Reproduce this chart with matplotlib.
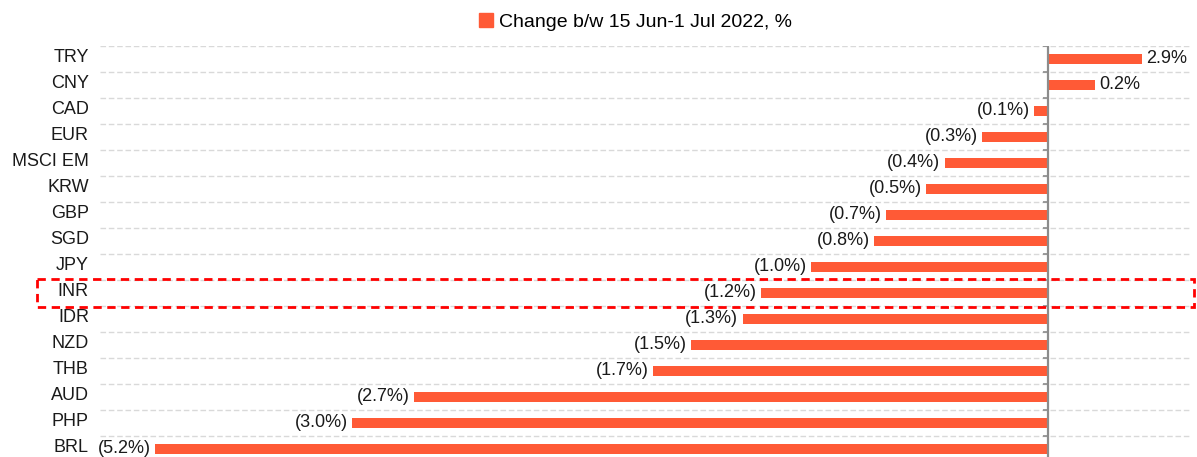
import matplotlib
matplotlib.use("Agg")
import matplotlib.pyplot as plt
from matplotlib.patches import Patch, Rectangle
from matplotlib.transforms import blended_transform_factory, ScaledTranslation
from matplotlib import font_manager

# categories top to bottom
currencies = ["TRY", "CNY", "CAD", "EUR", "MSCI EM", "KRW", "GBP", "SGD",
              "JPY", "INR", "IDR", "NZD", "THB", "AUD", "PHP", "BRL"]
# bar lengths as drawn in the source chart (%)
bar_values = [0.40, 0.20, -0.06, -0.28, -0.44, -0.52, -0.69, -0.74,
              -1.01, -1.22, -1.30, -1.52, -1.68, -2.70, -2.96, -3.80]
# value labels as printed in the source chart
value_labels = ["2.9%", "0.2%", "(0.1%)", "(0.3%)", "(0.4%)", "(0.5%)", "(0.7%)", "(0.8%)",
                "(1.0%)", "(1.2%)", "(1.3%)", "(1.5%)", "(1.7%)", "(2.7%)", "(3.0%)", "(5.2%)"]
highlight = "INR"
legend_label = "Change b/w 15 Jun-1 Jul 2022, %"

BAR_COLOR = "#FF5A36"

installed = {f.name for f in font_manager.fontManager.ttflist}
family = "Liberation Sans Narrow" if "Liberation Sans Narrow" in installed else "Liberation Sans"
plt.rcParams["font.family"] = [family, "DejaVu Sans"]

fig = plt.figure(figsize=(11.97, 4.57), dpi=100)
ax = fig.add_axes([100 / 1197, 0.0, 1090 / 1197, 411 / 457])

y = list(range(len(currencies)))
ax.barh(y, bar_values, height=0.38, color=BAR_COLOR, zorder=3)

ax.set_xlim(-4.034, 0.604)
ax.set_ylim(15.31, -0.5)

# dashed grid between categories
bounds = [i - 0.5 for i in range(len(currencies))]
ax.hlines(bounds, -4.034, 0.604, colors="#d9d9d9", linestyles=(0, (4, 2)), lw=1, zorder=1)

# zero line with small ticks
ax.axvline(0, color="#8c8c8c", lw=1.6, zorder=4)
ax.hlines(bounds, -0.02, 0, colors="#8c8c8c", lw=1.2, zorder=4)

for yi, v, lab in zip(y, bar_values, value_labels):
    if v >= 0:
        ax.annotate(lab, (v, yi), xytext=(3, 0), textcoords="offset points",
                    ha="left", va="center", fontsize=13, color="#1a1a1a", zorder=5)
    else:
        ax.annotate(lab, (v, yi), xytext=(-3, 0), textcoords="offset points",
                    ha="right", va="center", fontsize=13, color="#1a1a1a", zorder=5)

ax.set_yticks(y)
ax.set_yticklabels(currencies, fontsize=13, color="#1a1a1a")
ax.tick_params(axis="y", length=0, pad=8)
# nudge category labels up a little so the last one stays inside the picture
lift = ScaledTranslation(0, 3 / 100, fig.dpi_scale_trans)
for t in ax.get_yticklabels():
    t.set_transform(t.get_transform() + lift)
ax.set_xticks([])
for s in ax.spines.values():
    s.set_visible(False)

# highlight box around INR row
hi = currencies.index(highlight)
trans = blended_transform_factory(fig.transFigure, ax.transData)
box = Rectangle((37 / 1197, hi - 0.55), 1157 / 1197, 1.1, transform=trans,
                fill=False, edgecolor="#FF0000", lw=2, linestyle=(0, (3, 2)),
                clip_on=False, zorder=6)
fig.patches.append(box)

fig.legend(handles=[Patch(color=BAR_COLOR, label=legend_label)],
           loc="center", bbox_to_anchor=(0.531, 0.952), frameon=False,
           fontsize=14, handlelength=0.7, handleheight=0.7, handletextpad=0.3)

fig.savefig("out.png", dpi=100)
